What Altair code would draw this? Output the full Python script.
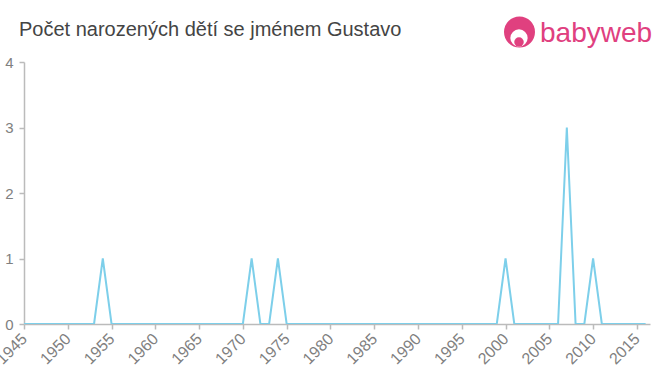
import altair as alt
import pandas as pd

years = list(range(1945, 2017))
peak_years = [1954, 1971, 1974, 2000, 2007, 2010]
peak_counts = [1, 1, 1, 1, 3, 1]
counts = [peak_counts[peak_years.index(y)] if y in peak_years else 0 for y in years]
tick_years = list(range(1945, 2020, 5))
title_text = "Počet narozených dětí se jménem Gustavo"
logo_text = "babyweb"

df = pd.DataFrame({"year": years, "count": counts})

W, H = 626, 262

line = alt.Chart(df).mark_line(color="#7dcfea", strokeWidth=2, clip=True).encode(
    x=alt.X("year:Q", scale=alt.Scale(domain=[1945, 2016.5], nice=False, zero=False),
            axis=alt.Axis(values=tick_years, format="d", labelAngle=-45, labelAlign="right",
                          labelBaseline="middle", labelFontSize=16, labelColor="#808080",
                          labelFont="Liberation Sans", domainColor="#bbb", tickColor="#bbb",
                          tickSize=5, labelPadding=7, grid=False, title=None, labelFlush=False,
                          labelOverlap=False, domainWidth=1.5, tickWidth=1.5)),
    y=alt.Y("count:Q", scale=alt.Scale(domain=[0, 4], nice=False),
            axis=alt.Axis(values=[0, 1, 2, 3, 4], labelFontSize=15, labelColor="#808080",
                          labelFont="Liberation Sans", domainColor="#bbb", tickColor="#bbb",
                          tickSize=5, tickWidth=1.5,
                          labelPadding=6, grid=False, title=None, domainWidth=1.5)),
)

title = alt.Chart(pd.DataFrame({"t": [title_text]})).mark_text(
    align="left", baseline="alphabetic", fontSize=20, color="#444", font="Liberation Sans"
).encode(x=alt.value(-5), y=alt.value(-26), text="t:N")

logo_circle = alt.Chart(pd.DataFrame({"a": [0]})).mark_circle(
    color="#e0407f", opacity=1, size=960
).encode(x=alt.value(495.5), y=alt.value(-30))

face = alt.Chart(pd.DataFrame({"a": [0]})).mark_circle(
    color="white", opacity=1, size=300
).encode(x=alt.value(495), y=alt.value(-24))

chin = alt.Chart(pd.DataFrame({"a": [0]})).mark_circle(
    color="#e0407f", opacity=1, size=90
).encode(x=alt.value(495), y=alt.value(-20))

logo_word = alt.Chart(pd.DataFrame({"t": [logo_text]})).mark_text(
    align="left", baseline="alphabetic", fontSize=28, color="#e0407f", font="Liberation Sans"
).encode(x=alt.value(516), y=alt.value(-20), text="t:N")

chart = alt.layer(line, title, logo_circle, face, chin, logo_word).properties(
    width=W, height=H,
    padding={"left": 24, "top": 62, "right": 10, "bottom": 51},
    autosize=alt.AutoSizeParams(type="none"),
).configure_view(stroke=None)

chart.save("out.html", embed_options={"renderer": "svg", "actions": False})
